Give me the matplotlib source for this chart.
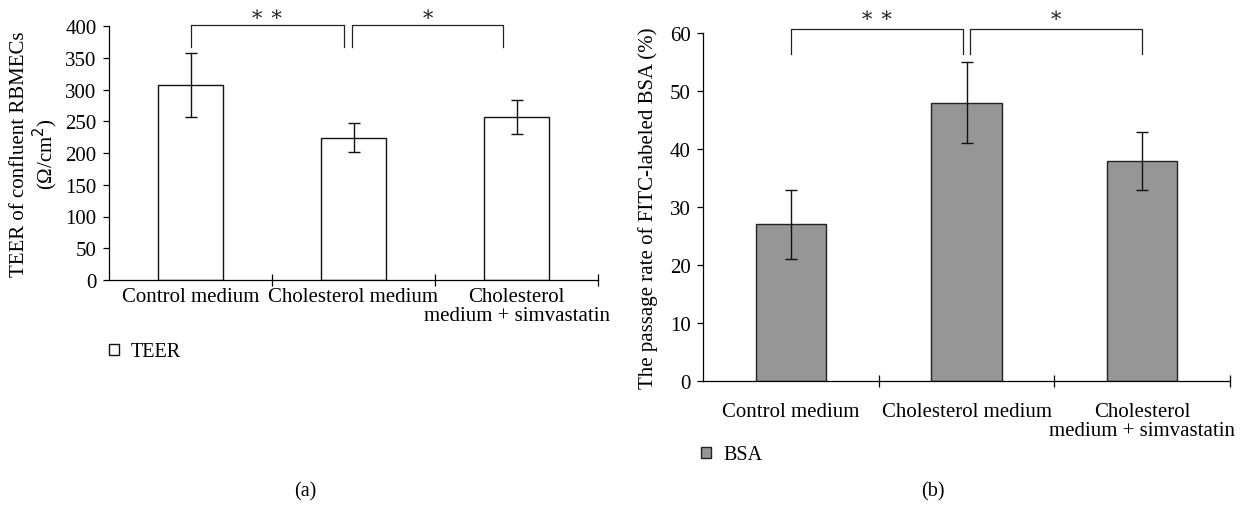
import matplotlib
matplotlib.use("Agg")
import matplotlib.pyplot as plt

plt.rcParams['font.family'] = ['Liberation Serif', 'DejaVu Serif']
plt.rcParams['font.size'] = 15

categories = ["Control medium", "Cholesterol medium", "Cholesterol\nmedium + simvastatin"]
teer_mean = [307, 224, 257]
teer_err = [50, 23, 27]
bsa_mean = [27, 48, 38]
bsa_err = [6, 7, 5]

# significance brackets: (x_start, x_end, label)
teer_sig = [(0.0, 0.94, "\u2217 \u2217"), (0.99, 1.92, "\u2217")]
bsa_sig = [(0.0, 0.98, "\u2217 \u2217"), (1.02, 2.0, "\u2217")]

W, H = 1248, 506
fig = plt.figure(figsize=(W / 100, H / 100), dpi=100)


def px_axes(x0, y0, x1, y1):
    # pixel box (left, top, right, bottom) -> figure axes
    return fig.add_axes([x0 / W, 1 - y1 / H, (x1 - x0) / W, (y1 - y0) / H])


def style_axes(ax, ylim, yticks, pad):
    ax.set_xlim(-0.5, 2.5)
    ax.set_ylim(*ylim)
    ax.set_yticks(yticks)
    for s in ["top", "right"]:
        ax.spines[s].set_visible(False)
    for s in ["left", "bottom"]:
        ax.spines[s].set_linewidth(0.9)
    ax.set_xticks([0.5, 1.5, 2.5])
    ax.set_xticklabels([])
    ax.set_xticks([0, 1, 2], minor=True)
    ax.set_xticklabels(categories, minor=True, linespacing=1.0)
    ax.tick_params(axis="x", which="major", direction="inout", length=8, width=0.9)
    ax.tick_params(axis="x", which="minor", length=0, pad=pad)
    ax.tick_params(axis="y", direction="out", length=4, width=0.9, pad=5)


def brackets(ax, sig, top, bottom, star_y):
    for x0, x1, lab in sig:
        ax.plot([x0, x0, x1, x1], [bottom, top, top, bottom], color="#222222",
                lw=0.9, clip_on=False)
        ax.text((x0 + x1) / 2, star_y, lab, ha="center", va="center",
                fontsize=15, color="#222222", clip_on=False)


# (a) TEER
ax1 = px_axes(109, 27, 598, 281)
b1 = ax1.bar(range(3), teer_mean, width=0.4, color="white", edgecolor="#111111",
             linewidth=1.0, label="TEER")
ax1.errorbar(range(3), teer_mean, yerr=teer_err, fmt="none", ecolor="#111111",
             elinewidth=1.0, capsize=4, capthick=1.0)
style_axes(ax1, (0, 400), range(0, 401, 50), 5)
brackets(ax1, teer_sig, 401.5, 367, 416)

# (b) BSA
ax2 = px_axes(703, 34, 1230, 382)
b2 = ax2.bar(range(3), bsa_mean, width=0.4, color="#969696", edgecolor="#222222",
             linewidth=1.0, label="BSA")
ax2.errorbar(range(3), bsa_mean, yerr=bsa_err, fmt="none", ecolor="#111111",
             elinewidth=1.0, capsize=4, capthick=1.0)
style_axes(ax2, (0, 60), range(0, 61, 10), 15)
brackets(ax2, bsa_sig, 60.7, 56.4, 62.9)

fig.text(35 / W, 1 - 154 / H, "TEER of confluent RBMECs\n(\u03a9/cm$^2$)", rotation=90,
         ha="center", va="center", multialignment="center", linespacing=1.1)
fig.text(648 / W, 1 - 208 / H, "The passage rate of FITC-labeled BSA (%)", rotation=90,
         ha="center", va="center")

for handle, x, y in [(b1, 109, 353), (b2, 701, 456)]:
    fig.legend(handles=[handle], loc="center left", bbox_to_anchor=(x / W, 1 - y / H),
               frameon=False, fontsize=14.5, handlelength=0.5, handleheight=0.5,
               handletextpad=0.6, borderpad=0, borderaxespad=0)

fig.text(305 / W, 1 - 492 / H, "(a)", ha="center", va="center", fontsize=14.5)
fig.text(933 / W, 1 - 492 / H, "(b)", ha="center", va="center", fontsize=14.5)

fig.savefig("out.png", dpi=100)
